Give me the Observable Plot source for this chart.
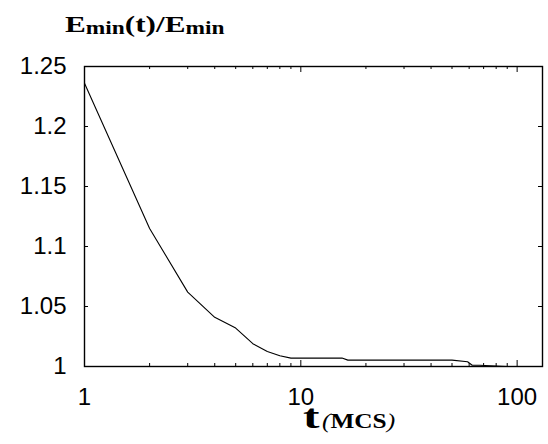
<!DOCTYPE html>
<html>
<head>
<meta charset="utf-8">
<script src="https://cdn.jsdelivr.net/npm/d3@7"></script>
<script src="https://cdn.jsdelivr.net/npm/@observablehq/plot@0.6"></script>
<style>
  html, body { margin: 0; padding: 0; background: white; }
  #wrap { position: relative; width: 548px; height: 444px; overflow: hidden; }
  #chart { position: absolute; left: 0; top: 0; }
  .lbl { position: absolute; font-family: "Liberation Serif", "Times New Roman", serif; font-weight: bold; color: black; white-space: nowrap; transform-origin: left top; line-height: 1; }
  #title { left: 65px; top: 12px; font-size: 24px; transform: scaleX(1.3); }
  #title sub { font-size: 18px; vertical-align: -2px; }
  #xt { left: 303px; top: 408.5px; font-size: 33px; line-height: 16px; height: 16px; transform: scaleX(1.5); }
  #xu { left: 322px; top: 410px; font-size: 22px; transform: scaleX(1.15); }
  #xu .p { font-style: italic; font-weight: normal; }
</style>
</head>
<body>
<div id="wrap">
  <div id="chart"></div>
  <div id="title" class="lbl">E<sub>min</sub>(t)/E<sub>min</sub></div>
  <div id="xt" class="lbl">t</div>
  <div id="xu" class="lbl"><span class="p">(</span>MCS<span class="p">)</span></div>
</div>
<script>
// Data
const times  = [1, 2, 3, 4, 5, 6, 7, 8, 9, 15.5, 16.5, 50, 59, 62, 67, 90, 100];
const ratios = [1.236, 1.115, 1.062, 1.041, 1.032, 1.019, 1.0125, 1.009, 1.007, 1.007, 1.0053, 1.0053, 1.004, 1.001, 1.001, 1.0, 1.0];

const yTicks = [1, 1.05, 1.1, 1.15, 1.2, 1.25];
const yInnerTicks = [1.05, 1.1, 1.15, 1.2];
const xTicks = [1, 10, 100];
const xMajorInner = [10, 100];
const xMinorInner = [2, 3, 4, 5, 6, 7, 8, 9, 20, 30, 40, 50, 60, 70, 80, 90];

const data = times.map((t, i) => ({t, r: ratios[i]}));

const W = 548, H = 444;
const mL = 84, mR = 6, mT = 66, mB = 78;
const fh = H - mT - mB, fw = W - mL - mR;

const chart = Plot.plot({
  width: W,
  height: H,
  marginLeft: mL,
  marginRight: mR,
  marginTop: mT,
  marginBottom: mB,
  style: {fontFamily: "'Liberation Sans', Arial, sans-serif", background: "white", color: "black"},
  x: {type: "log", domain: [1, 131], label: null},
  y: {domain: [1, 1.25], label: null},
  marks: [
    Plot.axisY({ticks: yTicks, tickSize: 0, tickPadding: 18, fontSize: 24, tickFormat: d => String(+d.toFixed(2)), label: null}),
    Plot.axisX({ticks: xTicks, tickSize: 0, tickPadding: 21, fontSize: 24, tickFormat: d => String(d), label: null}),
    // inward ticks
    Plot.ruleY(yInnerTicks, {y: d => d, insetRight: fw - 4, stroke: "black"}),
    Plot.ruleY(yInnerTicks, {y: d => d, insetLeft: fw - 4, stroke: "black"}),
    Plot.ruleX(xMinorInner, {x: d => d, insetTop: fh - 3, stroke: "black"}),
    Plot.ruleX(xMinorInner, {x: d => d, insetBottom: fh - 3, stroke: "black"}),
    Plot.ruleX(xMajorInner, {x: d => d, insetTop: fh - 6, stroke: "black"}),
    Plot.ruleX(xMajorInner, {x: d => d, insetBottom: fh - 6, stroke: "black"}),
    Plot.frame({stroke: "black", strokeWidth: 1.4}),
    Plot.line(data, {x: "t", y: "r", stroke: "black", strokeWidth: 1.1})
  ]
});
document.getElementById("chart").appendChild(chart);
</script>
</body>
</html>
